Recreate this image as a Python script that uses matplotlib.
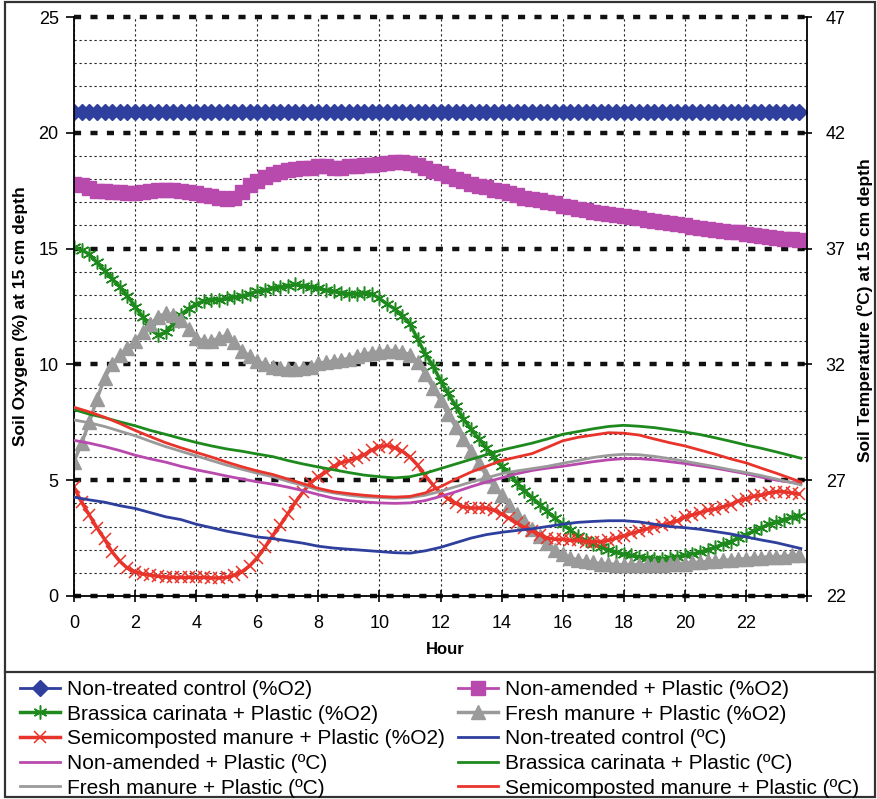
import numpy as np
import matplotlib
matplotlib.use("Agg")
import matplotlib.pyplot as plt
from matplotlib.lines import Line2D
from matplotlib.patches import Rectangle

plt.rcParams["font.family"] = ["Liberation Sans", "DejaVu Sans"]

# ----------------------------------------
#  Data
# ----------------------------------------
HOURS_O2 = np.arange(0, 24, 0.25)                      # 0 .. 23.75 h
HOURS_TEMP = np.append(np.arange(0, 23.5, 0.5), 23.8)  # 0 .. 23 h + last reading

# Soil oxygen (%), one row = 2 hours
O2_CONTROL = [
    20.9, 20.9, 20.9, 20.9, 20.9, 20.9, 20.9, 20.9,
    20.9, 20.9, 20.9, 20.9, 20.9, 20.9, 20.9, 20.9,
    20.9, 20.9, 20.9, 20.9, 20.9, 20.9, 20.9, 20.9,
    20.9, 20.9, 20.9, 20.9, 20.9, 20.9, 20.9, 20.9,
    20.9, 20.9, 20.9, 20.9, 20.9, 20.9, 20.9, 20.9,
    20.9, 20.9, 20.9, 20.9, 20.9, 20.9, 20.9, 20.9,
    20.9, 20.9, 20.9, 20.9, 20.9, 20.9, 20.9, 20.9,
    20.9, 20.9, 20.9, 20.9, 20.9, 20.9, 20.9, 20.9,
    20.9, 20.9, 20.9, 20.9, 20.9, 20.9, 20.9, 20.9,
    20.9, 20.9, 20.9, 20.9, 20.9, 20.9, 20.9, 20.9,
    20.9, 20.9, 20.9, 20.9, 20.9, 20.9, 20.9, 20.9,
    20.9, 20.9, 20.9, 20.9, 20.9, 20.9, 20.9, 20.9,
]
O2_NONAMENDED = [
    17.8, 17.75, 17.6, 17.5, 17.5, 17.45, 17.45, 17.4,
    17.4, 17.45, 17.5, 17.55, 17.55, 17.55, 17.5, 17.45,
    17.4, 17.3, 17.25, 17.2, 17.15, 17.2, 17.45, 17.75,
    17.9, 18.1, 18.2, 18.3, 18.4, 18.45, 18.5, 18.5,
    18.55, 18.55, 18.5, 18.5, 18.55, 18.55, 18.6, 18.6,
    18.65, 18.7, 18.75, 18.75, 18.7, 18.6, 18.5, 18.35,
    18.25, 18.15, 18.0, 17.9, 17.8, 17.7, 17.65, 17.55,
    17.5, 17.4, 17.3, 17.2, 17.15, 17.1, 17.0, 16.95,
    16.85, 16.8, 16.7, 16.65, 16.6, 16.55, 16.5, 16.45,
    16.4, 16.35, 16.3, 16.25, 16.2, 16.15, 16.1, 16.05,
    16.0, 15.95, 15.9, 15.85, 15.8, 15.75, 15.7, 15.7,
    15.65, 15.6, 15.55, 15.5, 15.45, 15.4, 15.4, 15.35,
]
O2_BRASSICA = [
    15.05, 14.95, 14.75, 14.4, 14.05, 13.7, 13.35, 12.95,
    12.5, 12.05, 11.6, 11.25, 11.4, 11.75, 12.15, 12.4,
    12.6, 12.75, 12.8, 12.8, 12.85, 12.9, 12.95, 13.05,
    13.15, 13.2, 13.3, 13.35, 13.4, 13.45, 13.4, 13.35,
    13.3, 13.2, 13.15, 13.1, 13.05, 13.05, 13.1, 13.05,
    12.85, 12.6, 12.4, 12.1, 11.75, 11.1, 10.45, 9.95,
    9.3, 8.75, 8.2, 7.65, 7.2, 6.8, 6.4, 6.0,
    5.6, 5.25, 4.9, 4.55, 4.25, 3.95, 3.65, 3.35,
    3.1, 2.85, 2.6, 2.4, 2.25, 2.1, 2.0, 1.9,
    1.8, 1.75, 1.7, 1.65, 1.6, 1.6, 1.65, 1.7,
    1.75, 1.8, 1.9, 2.0, 2.1, 2.25, 2.35, 2.5,
    2.65, 2.8, 2.95, 3.1, 3.2, 3.3, 3.4, 3.45,
]
O2_FRESH = [
    5.8, 6.6, 7.5, 8.5, 9.4, 10.0, 10.4, 10.7,
    11.0, 11.4, 11.75, 12.05, 12.2, 12.15, 11.9, 11.55,
    11.15, 11.0, 11.0, 11.15, 11.25, 10.95, 10.6, 10.35,
    10.15, 10.0, 9.9, 9.85, 9.8, 9.8, 9.85, 9.9,
    10.05, 10.1, 10.15, 10.2, 10.25, 10.35, 10.45, 10.5,
    10.55, 10.6, 10.6, 10.55, 10.4, 10.1, 9.6, 9.0,
    8.45, 7.85, 7.3, 6.8, 6.25, 5.75, 5.2, 4.75,
    4.35, 3.95, 3.55, 3.25, 2.9, 2.6, 2.3, 2.0,
    1.8, 1.65, 1.55, 1.5, 1.45, 1.4, 1.4, 1.35,
    1.35, 1.35, 1.35, 1.35, 1.35, 1.35, 1.4, 1.4,
    1.4, 1.45, 1.45, 1.5, 1.5, 1.55, 1.55, 1.6,
    1.6, 1.65, 1.65, 1.7, 1.7, 1.7, 1.75, 1.75,
]
O2_SEMICOMPOSTED = [
    4.7, 4.05, 3.5, 2.95, 2.45, 1.9, 1.5, 1.2,
    1.05, 0.95, 0.9, 0.85, 0.82, 0.8, 0.8, 0.8,
    0.8, 0.8, 0.78, 0.78, 0.8, 0.9, 1.05, 1.3,
    1.65, 2.1, 2.6, 3.05, 3.55, 4.05, 4.5, 4.9,
    5.15, 5.35, 5.6, 5.75, 5.85, 5.95, 6.1, 6.3,
    6.45, 6.5, 6.4, 6.25, 6.0, 5.65, 5.2, 4.8,
    4.45, 4.2, 4.0, 3.85, 3.8, 3.8, 3.8, 3.7,
    3.55, 3.35, 3.15, 2.95, 2.8, 2.65, 2.5, 2.45,
    2.45, 2.4, 2.4, 2.35, 2.35, 2.35, 2.4, 2.5,
    2.6, 2.7, 2.8, 2.9, 3.0, 3.05, 3.15, 3.25,
    3.4, 3.5, 3.6, 3.7, 3.75, 3.85, 3.95, 4.1,
    4.2, 4.3, 4.35, 4.45, 4.5, 4.5, 4.45, 4.4,
]

# Soil temperature (ºC), one row = 4 hours
T_CONTROL = [
    26.27, 26.15, 26.05, 25.9, 25.78, 25.6, 25.42, 25.3,
    25.1, 24.95, 24.8, 24.68, 24.55, 24.48, 24.38, 24.28,
    24.15, 24.07, 24.02, 23.97, 23.92, 23.87, 23.85, 23.95,
    24.1, 24.3, 24.5, 24.65, 24.75, 24.83, 24.9, 25.0,
    25.1, 25.18, 25.22, 25.25, 25.25, 25.2, 25.1, 25.0,
    24.95, 24.88, 24.78, 24.68, 24.55, 24.42, 24.3, 24.05,
]
T_NONAMENDED = [
    28.72, 28.6, 28.45, 28.28, 28.08, 27.92, 27.78, 27.6,
    27.45, 27.32, 27.18, 27.05, 26.93, 26.83, 26.7, 26.55,
    26.38, 26.22, 26.12, 26.06, 26.02, 26.0, 26.02, 26.12,
    26.3, 26.5, 26.72, 26.92, 27.1, 27.28, 27.42, 27.52,
    27.6, 27.7, 27.8, 27.88, 27.93, 27.93, 27.88, 27.8,
    27.72, 27.62, 27.52, 27.4, 27.28, 27.13, 27.0, 26.85,
]
T_BRASSICA = [
    30.05, 29.85, 29.7, 29.52, 29.35, 29.15, 28.98, 28.8,
    28.63, 28.48, 28.35, 28.25, 28.13, 28.02, 27.85, 27.7,
    27.57, 27.45, 27.33, 27.22, 27.15, 27.1, 27.15, 27.3,
    27.5, 27.7, 27.9, 28.1, 28.3, 28.45, 28.6, 28.78,
    28.98, 29.1, 29.22, 29.32, 29.37, 29.33, 29.27, 29.18,
    29.08, 28.97, 28.83, 28.68, 28.52, 28.38, 28.22, 27.95,
]
T_FRESH = [
    29.6, 29.48, 29.32, 29.12, 28.92, 28.68, 28.45, 28.25,
    28.05, 27.85, 27.65, 27.47, 27.3, 27.15, 26.95, 26.78,
    26.58, 26.45, 26.35, 26.28, 26.25, 26.22, 26.25, 26.35,
    26.52, 26.72, 26.92, 27.1, 27.28, 27.4, 27.5, 27.6,
    27.73, 27.85, 27.98, 28.07, 28.12, 28.1, 28.03, 27.93,
    27.82, 27.7, 27.58, 27.45, 27.33, 27.2, 27.05, 26.8,
]
T_SEMICOMPOSTED = [
    30.15, 29.95, 29.72, 29.45, 29.15, 28.88, 28.62, 28.4,
    28.2, 28.0, 27.78, 27.58, 27.4, 27.25, 27.05, 26.85,
    26.65, 26.5, 26.42, 26.35, 26.3, 26.27, 26.3, 26.45,
    26.72, 27.05, 27.35, 27.6, 27.85, 28.0, 28.15, 28.42,
    28.7, 28.85, 28.95, 29.05, 29.03, 28.95, 28.78, 28.62,
    28.48, 28.3, 28.12, 27.92, 27.75, 27.52, 27.3, 26.92,
]

X_TICKS = list(range(0, 25, 2))
X_TICK_LABELS = [str(h) for h in range(0, 24, 2)] + [""]

O2_LABELS = [
    "Non-treated control (%O2)",
    "Non-amended + Plastic (%O2)",
    "Brassica carinata + Plastic (%O2)",
    "Fresh manure + Plastic (%O2)",
    "Semicomposted manure + Plastic (%O2)",
]
T_LABELS = [
    "Non-treated control (ºC)",
    "Non-amended + Plastic (ºC)",
    "Brassica carinata + Plastic (ºC)",
    "Fresh manure + Plastic (ºC)",
    "Semicomposted manure + Plastic (ºC)",
]

BLUE = "#2E3F9E"
MAGENTA = "#B94AAD"
GREEN = "#1E8A1E"
GRAY = "#9A9A9A"
RED = "#E8342A"

# ----------------------------------------
#  Figure / axes
# ----------------------------------------
W_PX, H_PX = 877, 799
fig = plt.figure(figsize=(W_PX / 100, H_PX / 100), dpi=100)

def fx(px):
    return px / W_PX

def fy(py):
    return 1 - py / H_PX

ax = fig.add_axes([fx(74), fy(596), fx(807) - fx(74), fy(17) - fy(596)])
ax2 = ax.twinx()

ax.set_xlim(0, 24)
ax.set_ylim(0, 25)
ax2.set_ylim(22, 47)

# grid
ax.set_axisbelow(True)
ax.set_xticks(X_TICKS)
ax.set_xticklabels(X_TICK_LABELS)
ax.set_yticks(range(0, 26, 5))
ax.set_yticks([v for v in range(1, 25) if v % 5], minor=True)
ax2.set_yticks(range(22, 48, 5))

ax.grid(axis="x", which="major", linestyle=(0, (2, 2.5)), linewidth=0.8, color="#222222")
ax.grid(axis="y", which="minor", linestyle=(0, (2, 2.5)), linewidth=0.8, color="#222222")
ax.grid(axis="y", which="major", linestyle=(0, (1.6, 2.1)), linewidth=3.2, color="#111111")
for gl in ax.get_ygridlines():
    gl.set_clip_on(False)

for side in ("top", "right"):
    ax.spines[side].set_visible(False)
for side in ("top", "left", "bottom"):
    ax2.spines[side].set_visible(False)
for sp in (ax.spines["left"], ax.spines["bottom"], ax2.spines["right"]):
    sp.set_linewidth(1.3)
    sp.set_color("black")

ax.tick_params(axis="x", which="major", direction="inout", length=9, width=1.2,
               labelsize=13, pad=9)
ax.tick_params(axis="y", which="major", direction="out", length=6, width=1.2,
               labelsize=13, pad=5)
ax.tick_params(axis="y", which="minor", length=0)
ax2.tick_params(axis="y", direction="inout", length=7, width=1.2, labelsize=13, pad=10)

# ----------------------------------------
#  Series
# ----------------------------------------
handles = []
handles += ax.plot(HOURS_O2, O2_CONTROL, color=BLUE, lw=2, marker="D", ms=8.5,
                   mec=BLUE, mfc=BLUE, label=O2_LABELS[0])
handles += ax.plot(HOURS_O2, O2_NONAMENDED, color=MAGENTA, lw=2, marker="s", ms=9.5,
                   mec=MAGENTA, mfc=MAGENTA, label=O2_LABELS[1])
handles += ax.plot(HOURS_O2, O2_BRASSICA, color=GREEN, lw=2.5, marker=(6, 2, 0), ms=10,
                   mew=1.1, mec=GREEN, label=O2_LABELS[2])
handles += ax.plot(HOURS_O2, O2_FRESH, color=GRAY, lw=2.5, marker="^", ms=10,
                   mec=GRAY, mfc=GRAY, label=O2_LABELS[3])
handles += ax.plot(HOURS_O2, O2_SEMICOMPOSTED, color=RED, lw=2.5, marker="x", ms=8,
                   mew=1.1, mec=RED, label=O2_LABELS[4])

for vals, col, lab in [
    (T_CONTROL, BLUE, T_LABELS[0]),
    (T_NONAMENDED, MAGENTA, T_LABELS[1]),
    (T_BRASSICA, GREEN, T_LABELS[2]),
    (T_FRESH, GRAY, T_LABELS[3]),
    (T_SEMICOMPOSTED, RED, T_LABELS[4]),
]:
    handles += ax2.plot(HOURS_TEMP, vals, color=col, lw=2, label=lab)

# ----------------------------------------
#  Labels
# ----------------------------------------
fig.text(fx(21), fy(316), "Soil Oxygen (%) at 15 cm depth", rotation=90,
         ha="center", va="center", fontsize=12.5, fontweight="bold")
fig.text(fx(865), fy(310), "Soil Temperature (ºC) at 15 cm depth", rotation=90,
         ha="center", va="center", fontsize=12.5, fontweight="bold")
fig.text(fx(445), fy(650), "Hour", ha="center", va="center",
         fontsize=12, fontweight="bold")

# ----------------------------------------
#  Legend (two columns, row-wise order)
# ----------------------------------------
labels = [h.get_label() for h in handles]
legend_kw = dict(loc="upper left", frameon=False, fontsize=15, handlelength=1.9,
                 handletextpad=0.35, labelspacing=0.27, borderpad=0, borderaxespad=0)
fig.legend(handles[0::2], labels[0::2], bbox_to_anchor=(fx(20), fy(680)), **legend_kw)
fig.legend(handles[1::2], labels[1::2], bbox_to_anchor=(fx(458), fy(680)), **legend_kw)

# outer frame and legend separator
fig.add_artist(Rectangle((fx(5), fy(797)), fx(875) - fx(5), fy(2) - fy(797),
                         transform=fig.transFigure, fill=False, lw=1.6, ec="#333333"))
fig.add_artist(Line2D([fx(5), fx(875)], [fy(672), fy(672)],
                      transform=fig.transFigure, color="#333333", lw=1.6))

fig.savefig("out.png", dpi=100)
